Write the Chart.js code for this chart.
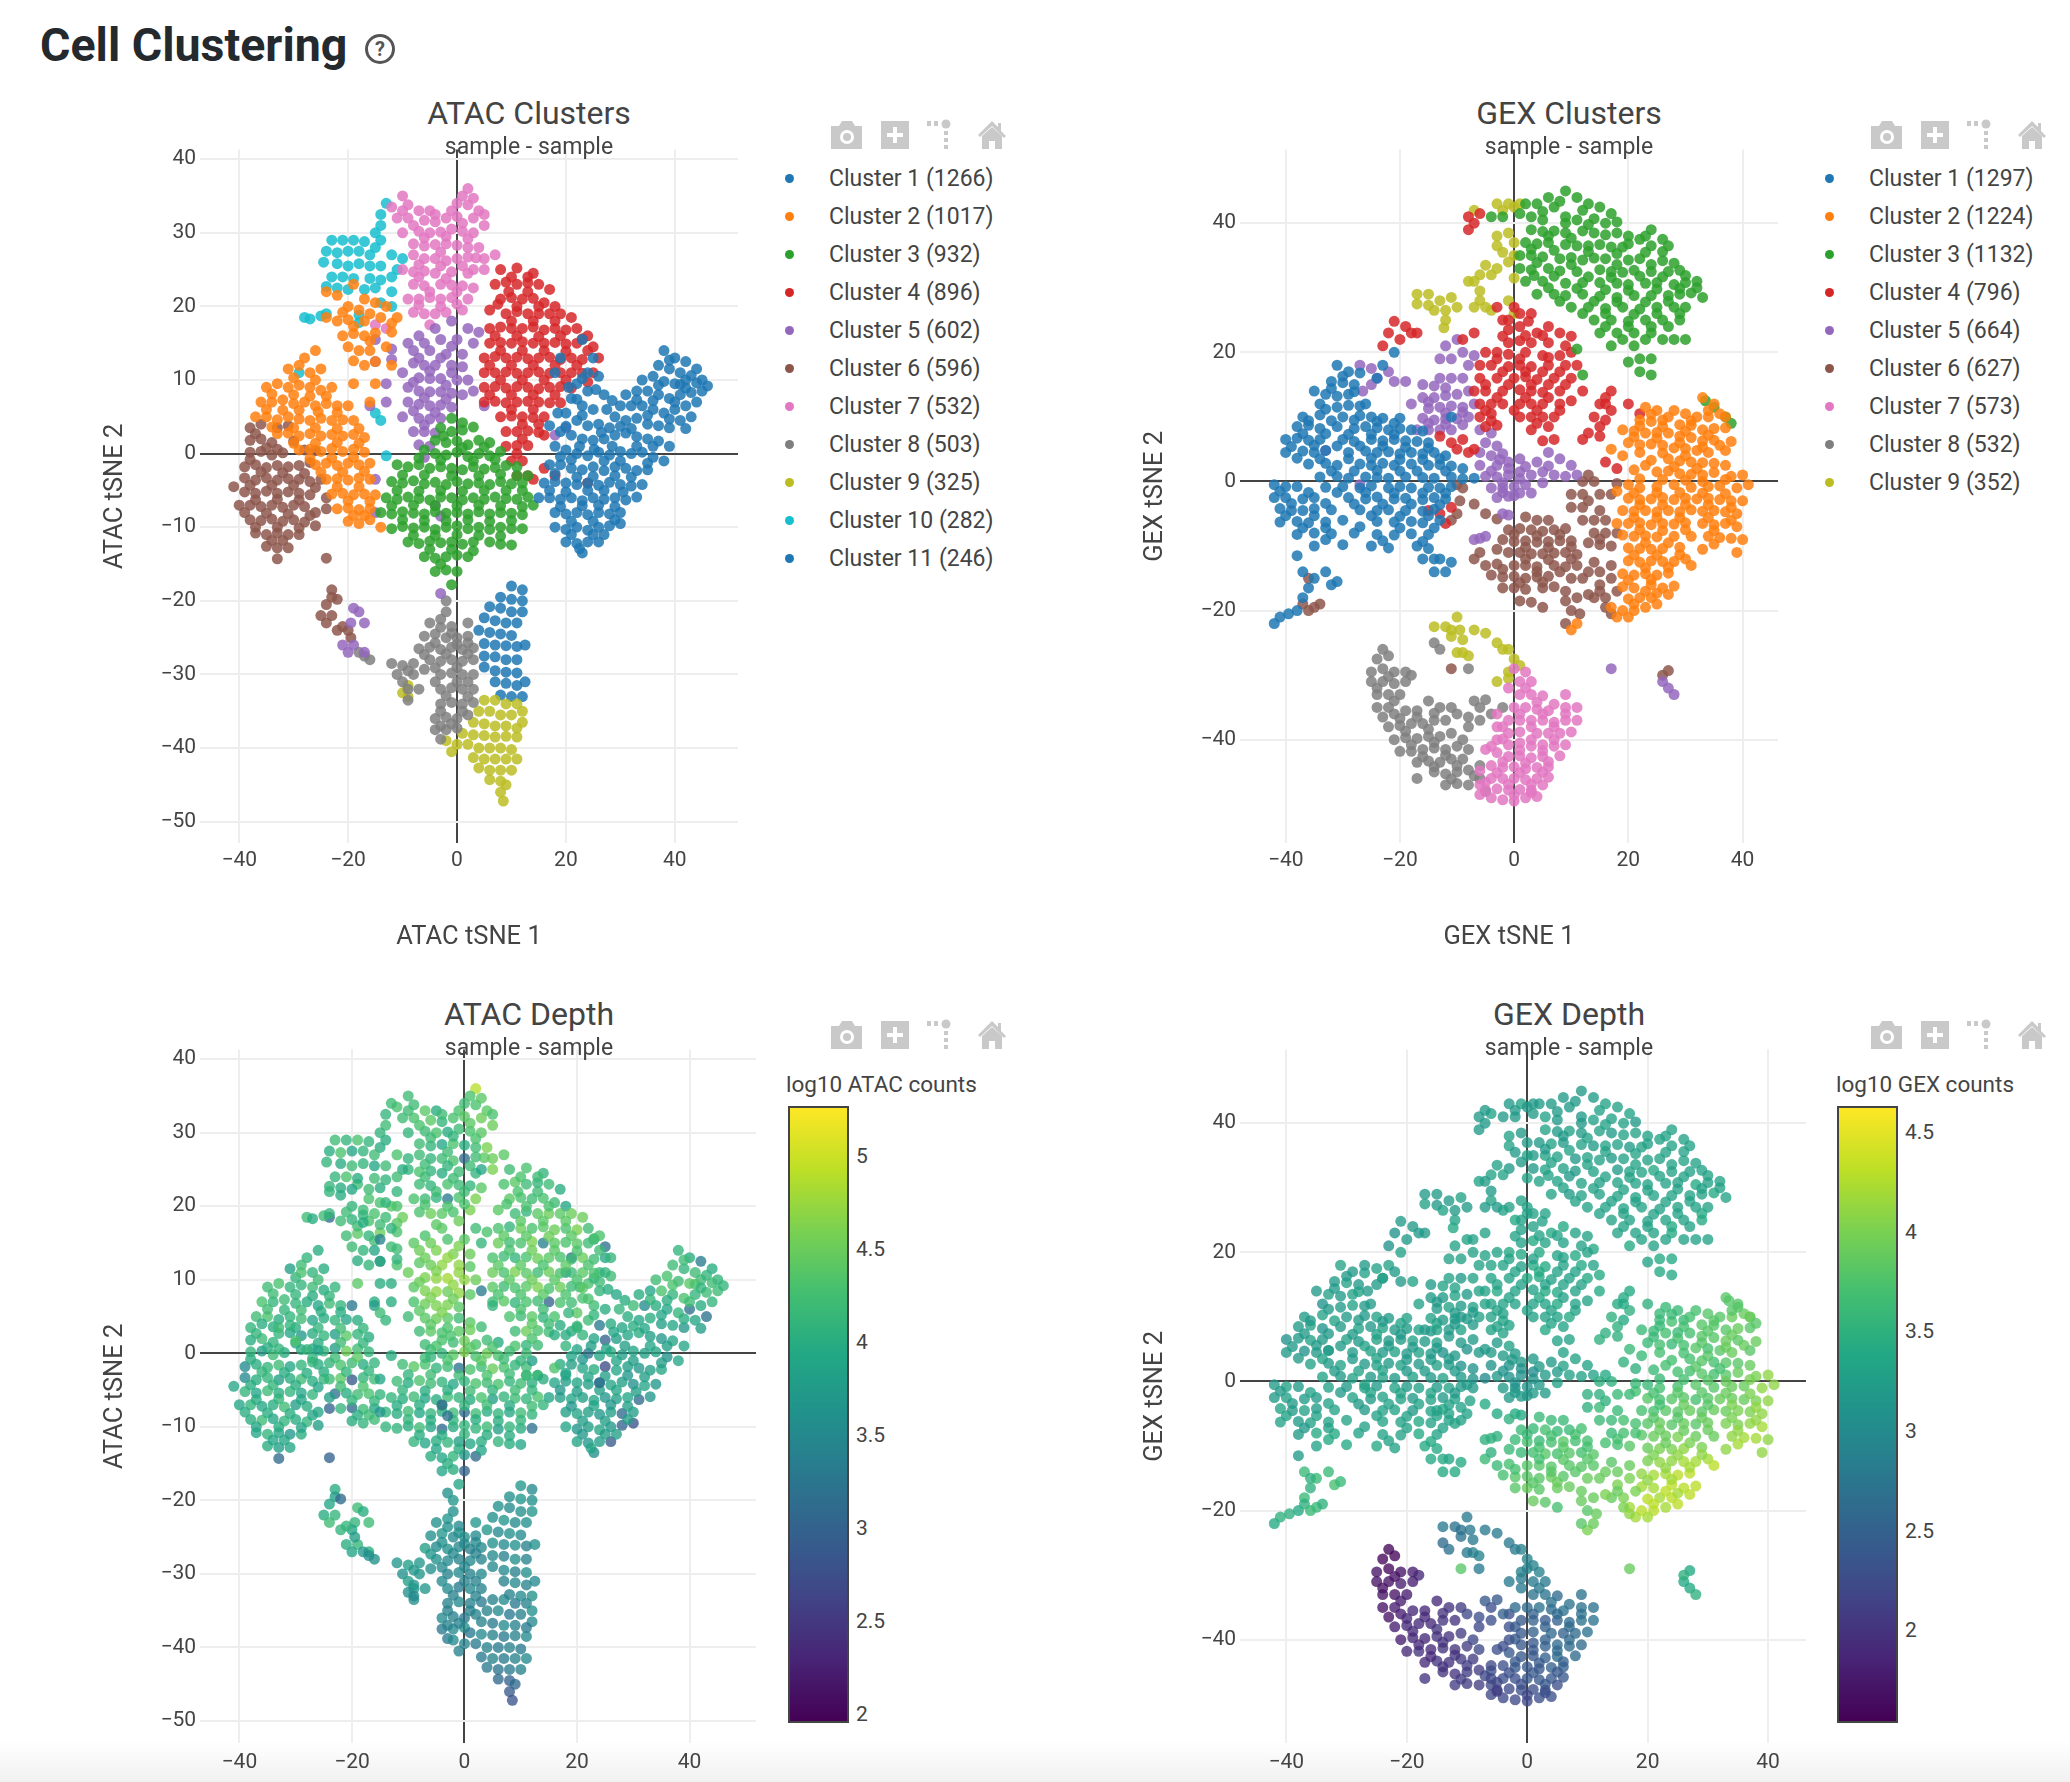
<!DOCTYPE html>
<html>
<head>
<meta charset="utf-8">
<script src="https://cdn.jsdelivr.net/npm/chart.js@4/dist/chart.umd.min.js"></script>
<style>
html,body{margin:0;padding:0;background:#fff;}
body{position:relative;width:2070px;height:1782px;overflow:hidden;font-family:Roboto,sans-serif;color:#444;}
#shade{position:absolute;left:0;right:0;bottom:0;height:42px;background:linear-gradient(#fff,#f1f1f1);}
canvas{position:absolute;}
.abs{position:absolute;white-space:nowrap;}
h1{position:absolute;left:40px;top:16px;margin:0;font-size:47px;font-weight:700;color:#24292e;line-height:58px;transform:scaleX(.99);transform-origin:left;}
.ttl{font-size:32px;transform:translateX(-50%);line-height:34px;}
.sub{font-size:23px;transform:translateX(-50%);line-height:26px;}
.leg{font-size:23px;line-height:26px;}
.cbt{font-size:22.5px;line-height:26px;}
.tick{font-size:21px;line-height:26px;}
.dot{position:absolute;width:9px;height:9px;border-radius:50%;}
.bar{position:absolute;width:57px;height:613px;border:2px solid #444;}
</style>
</head>
<body>
<div id="shade"></div>
<h1>Cell Clustering</h1>
<svg class="abs" style="left:364px;top:33px" width="32" height="32" viewBox="0 0 32 32"><circle cx="16" cy="16" r="13.5" fill="none" stroke="#555" stroke-width="3"/><text x="16" y="23" font-size="20" font-weight="700" text-anchor="middle" fill="#555" font-family="Roboto">?</text></svg>
<script>
// --- DONNEES ---
// Chaque point : [tSNE 1, tSNE 2, log10 counts], relevé à l'oeil sur l'image
const clusterColors = ["#1f77b4","#ff7f0e","#2ca02c","#d62728","#9467bd","#8c564b","#e377c2","#7f7f7f","#bcbd22","#17becf","#1f77b4"];
const atacLegend = ["Cluster 1 (1266)","Cluster 2 (1017)","Cluster 3 (932)","Cluster 4 (896)","Cluster 5 (602)","Cluster 6 (596)","Cluster 7 (532)","Cluster 8 (503)","Cluster 9 (325)","Cluster 10 (282)","Cluster 11 (246)"];
const gexLegend = ["Cluster 1 (1297)","Cluster 2 (1224)","Cluster 3 (1132)","Cluster 4 (796)","Cluster 5 (664)","Cluster 6 (627)","Cluster 7 (573)","Cluster 8 (532)","Cluster 9 (352)"];
const atacXTicks = [-40,-20,0,20,40];
const atacYTicks = [40,30,20,10,0,-10,-20,-30,-40,-50];
const gexXTicks = [-40,-20,0,20,40];
const gexYTicks = [40,20,0,-20,-40];
const atacBarTicks = [5,4.5,4,3.5,3,2.5,2];
const gexBarTicks = [4.5,4,3.5,3,2.5,2];

const atacC1 = [[38,14,4.1],[40,13,4],[42,12.5,3.3],[37,12,4.2],[39,11.5,4.1],[41,11,4.2],[44,11.5,4],[36,10.5,4.3],[38,9.8,4.2],[40,9.5,4.4],[42,10,4.2],[45,10,4.1],[34,10,4.2],[33,8.5,3.9],[35,8.5,4.3],[37,8,4.1],[39,7.5,4.3],[41,8,4.1],[43,8.3,4.2],[45,8.5,4.2],[46,9.2,4.1],[31,8,4],[30,6.5,4.2],[32,6.5,3.5],[34,6.5,4],[36,6,3.9],[38,5.5,4.1],[40,6,3.2],[42,6.5,4],[44,7,4.1],[29,5,4],[31,4.5,3.9],[33,4.8,4],[35,4,3.8],[37,3.8,3.9],[39,3.5,3.7],[41,4.5,3.9],[43,5,3.2],[25,13,3.9],[24,11,4.1],[26,10.5,4.2],[22,9.5,4.3],[24,8.5,4.1],[27,8,3.9],[21,7.5,4.3],[23,6.5,4.2],[25,6,4],[27.5,6,4.1],[20,5.5,4.4],[22,4.5,4.2],[24,3.8,3.3],[26,4,4],[28,3.5,3.9],[19,3,4],[21,2.5,4.1],[23,2,3.9],[25,1.8,3],[27,2,3.8],[29,2.5,3.9],[31,2.8,4],[33,2.3,3.8],[35,2,3.7],[37,1.7,3.9],[39,1,3.9],[18,1,4.1],[20,.5,3.9],[22,0,3.2],[24,-.3,3.9],[26,.2,4],[28,-.2,3.8],[30,.3,3.9],[32,0,3.8],[34,.2,3.9],[36,-.5,3.6],[38,-1,3.9],[17,-1.5,4],[19,-1.5,3.8],[21,-2,3.9],[23,-2.2,4],[25,-1.8,2.7],[27,-2.3,3.9],[29,-1.8,3.8],[31,-2,3.7],[33,-2.3,3.8],[35,-2.2,3.9],[16,-4,3.9],[18,-3.8,3.8],[20,-4,3.9],[22,-4.2,3.8],[24,-4,3.7],[26,-4.3,3.9],[28,-3.9,3.8],[30,-4.2,3.6],[32,-4.4,3.9],[34,-4.2,3.7],[15,-6,3.9],[17,-6,3.8],[19,-6.2,3.9],[21,-6,3.8],[23,-6.4,3.9],[25,-6,3.7],[27,-6.2,3.8],[29,-6,3.9],[31,-6.3,3.1],[33,-5.9,3.7],[18,-8,3.8],[20,-8.2,3.9],[22,-8,3.8],[24,-8.3,3.7],[26,-8,3.8],[28,-8.2,3.1],[30,-8,3.8],[18,-10,3.9],[20,-10.3,3.7],[22,-10,3.8],[24,-10.4,3.9],[26,-10,3.7],[28,-9.8,3],[30,-9.5,2.8],[20,-12,3.9],[22,-12.2,3.7],[24,-12,3.8],[26,-12,2.9],[27,-11,3.8],[23,-13.5,3.6],[19,13,3.1],[18,11,3.7],[23,15.5,3.9]];
const atacF1 = [[39,12.7,4.2],[43,10.6,4.1],[37,9.3,4.3],[41,9.4,4.3],[44,9.6,4.2],[36,7.2,4],[40,7,4.2],[42,8.9,4.1],[33,7.3,4.1],[35,5.2,3.9],[39,4.7,4],[42,3.4,3.8],[30,3.7,4],[32,3.4,3.9],[20.5,9,4.2],[23,10.2,4.1],[25.5,8.7,4],[28.5,7.2,4],[22,7.4,4.3],[20,3.7,4.2],[23,5.2,4.1],[26.5,2.9,3.9],[17,3.8,4],[18.5,5.5,4.1],[22.5,1,3.8],[25.2,.6,3.9],[28.5,1,3.8],[33,1,3.9],[36,1,3.8],[19,-.4,3.9],[21,-.8,3.7],[27,-1,3.9],[30,-1,3.8],[35,-1.3,3.8],[18,-2.7,3.9],[22,-3.2,3.9],[25,-3.1,3.8],[29,-3,3.7],[32,-3.2,3.8],[17,-5,3.7],[20,-5.2,3.8],[24,-5,3.8],[27,-5,3.9],[30.5,-5.2,3.8],[19,-7.2,3.7],[23,-7.1,3.9],[26,-7,3.7],[29,-7.2,3.8],[21,-9.2,3.8],[25,-9.2,3.8],[29,-9,3.8],[21,-11,3.7],[25,-11,3.8],[22.5,-12.9,3.9]];
const atacC2 = [[-24,22,4.1],[-22,21.5,4],[-19,23,4.2],[-17,21,4.3],[-20,20,4.1],[-18,19.5,4.2],[-15,20.5,4.3],[-13,20,4.4],[-24,18.5,3.1],[-22,18,4.2],[-20,18.2,4.1],[-17,18,4.3],[-14,18.5,4.2],[-11,18.5,4.5],[-21,16,4.2],[-19,16.3,4.4],[-17,16,4.1],[-15,16.4,4.5],[-12,16.5,4.3],[-20,14.5,4.2],[-18,14,4.1],[-16,14,3.9],[-13,14.5,4.2],[-17,12,4.1],[-15,12.5,3.3],[-12,12,4.3],[-28,13,4.1],[-26,14,4],[-31,11.5,3.8],[-29,12,4.2],[-27,11,4.1],[-25,11.5,4],[-35,9,4.2],[-33,9.5,4.3],[-31,9,4.1],[-29,9.3,4.1],[-27,9,4.2],[-25,8.6,4],[-23,9,4.1],[-19,9.5,4.4],[-15,9.5,4],[-36,7,4.3],[-34,7,4.1],[-32,7.3,4.2],[-30,6.8,4.1],[-28,7,4],[-26,6.5,3.9],[-24,6.8,4.2],[-22,6.5,4.1],[-20,6.5,3.3],[-16,7,4],[-37,5,4.2],[-35,5,4.3],[-33,4.6,4],[-31,5,4.1],[-29,4.7,4.2],[-27,4.5,3.9],[-25,4.8,4],[-23,4.5,4.1],[-21,4.6,3.9],[-19,4.5,4],[-33,2.7,4.1],[-31,2.8,3.9],[-29,2.4,3.7],[-27,2.7,4],[-25,2.4,4.1],[-23,2.6,3.8],[-21,2.4,4.4],[-19,2.6,4.1],[-17,2.2,4],[-29,.5,4],[-27,.6,3.9],[-25,.3,4.1],[-23,.7,3.8],[-21,.3,4.5],[-19,.6,4.2],[-17,.2,4.1],[-26,-1.5,4],[-24,-1.3,4.1],[-22,-1.6,4.3],[-20,-1.3,4.2],[-18,-1.5,4],[-16,-1.3,4.1],[-24,-3.5,4.2],[-22,-3.4,4.4],[-20,-3.6,2.9],[-18,-3.3,4.1],[-16,-3.5,4.2],[-23,-5.5,3.2],[-21,-5.4,4],[-19,-5.6,4.2],[-17,-5.5,4.3],[-15,-5.6,4.1],[-22,-7.5,4.1],[-20,-7.4,3.1],[-18,-7.6,4.2],[-16,-7.5,3.9],[-20,-9.2,4],[-18,-9.5,4.1],[-16,-9,4.2],[-14,-10,4.1]];
const atacF2 = [[-21,19.2,4.2],[-16,19,4.3],[-12,17.7,4.4],[-19,17.3,4.2],[-16,15.3,4.2],[-19,12.6,4],[-30,10.3,4.1],[-26,10,4.2],[-34,8.1,4.2],[-30,8,4.1],[-27,7.8,4],[-24,7.8,4.1],[-35,6,4.2],[-32,5.9,4.1],[-29,5.9,4.2],[-25.5,5.7,4],[-22,5.6,4],[-34,3.6,4],[-30,3.5,4],[-26,3.5,4.1],[-22,3.4,4.2],[-18,3.4,4.1],[-30,1.4,3.9],[-26,1.4,4],[-22,1.5,4.2],[-18,1.4,4.1],[-27,-.7,4.1],[-23,-.6,4.2],[-19,-.5,4.4],[-25,-2.5,4],[-21,-2.5,4.1],[-17,-2.4,4.1],[-22,-4.5,4.2],[-18,-4.5,4.3],[-20,-6.4,4.1],[-16,-6.5,4.1],[-19,-8.4,4],[-17,-8.4,4.2]];
const atacC3 = [[-1,4.8,4.2],[1,4.2,4.4],[-3,3.5,4.3],[-1,3,4.4],[1,3.2,4.5],[3,3.6,4.2],[-4,1.8,4.3],[-2,1.5,4.2],[0,1.7,4.5],[2,1.2,4.3],[4,1.8,4.2],[6,1.5,4],[-6,.5,4.2],[-4,0,4.1],[-2,-.2,4.4],[0,.2,4.6],[2,-.4,4.3],[4,0,4.5],[6,-.3,4.3],[8,.3,4.2],[-11,-1.5,4.2],[-9,-1.8,4.4],[-7,-1.5,4.3],[-5,-2,4.1],[-3,-1.8,4.2],[-1,-2,3.2],[1,-2.2,4.3],[3,-1.8,4.2],[5,-2.1,4.5],[7,-1.9,4.3],[9,-1.6,4.1],[11,-1.8,4.2],[-12,-3.8,4.2],[-10,-4,4],[-8,-3.7,4.3],[-6,-4.1,4.2],[-4,-3.9,4.1],[-2,-4.2,3.9],[0,-3.8,4.1],[2,-4.1,4.3],[4,-4,4.2],[6,-4.2,4.3],[8,-3.8,4.1],[10,-4.1,4.2],[12,-4,4],[13,-3,4.3],[-13,-6,4.1],[-11,-6.2,4],[-9,-5.9,4.2],[-7,-6.1,3.9],[-5,-6.3,4],[-3,-5.9,4.2],[-1,-6,4.1],[1,-6.3,4],[3,-6,4.3],[5,-6.2,3.8],[7,-5.9,4.1],[9,-6.1,4.2],[11,-6.2,4.1],[13,-5.9,4.3],[14,-7,4.1],[-14,-8,4.1],[-12,-8.2,4],[-10,-7.9,4.2],[-8,-8.1,3.9],[-6,-8.2,4.1],[-4,-7.9,4],[-2,-8.1,4.2],[0,-8,3.1],[2,-8.2,4.2],[4,-7.9,4],[6,-8.2,4.1],[8,-8,3.9],[10,-8.1,4.2],[12,-8.3,4.1],[-12,-10.2,4.1],[-10,-9.9,4],[-8,-10.1,4.2],[-6,-10,3.9],[-4,-10.3,3.1],[-2,-10,4],[0,-9.8,4.1],[2,-10.2,4.1],[4,-10,4.2],[6,-10.3,3.8],[8,-10,4.1],[10,-10.2,4],[12,-10.2,3.2],[-9,-12,4.1],[-7,-12.2,3.9],[-5,-11.9,4],[-3,-12.1,4.1],[-1,-12,3.8],[1,-12.3,3.9],[3,-12,4],[6,-12,4.1],[8,-12.3,4],[10,-12.4,3.9],[-6,-14,4],[-4,-14.2,3.9],[-2,-14,4.1],[0,-13.8,3.7],[2,-14,3.1],[-4,-16,3.9],[-2,-15.8,4],[0,-16,3],[-1,-17.8,3.9]];
const atacF3 = [[-2.5,2.4,4.3],[1,.8,4.4],[5,.9,4.3],[-7,-.6,4.2],[-3,-.9,4.3],[3,-1,4.4],[7,-.8,4.2],[-10,-2.9,4.1],[-6,-2.9,4.2],[-1,-3,4.2],[4,-3,4.3],[8,-2.8,4.2],[11,-3,4.1],[-11,-5,4.1],[-7,-5.1,4],[-3,-5,4],[1,-5.1,4.2],[5,-5,4.1],[9,-5,4.2],[12,-5,4.1],[-12,-7.1,4],[-8,-7,4],[-4,-7.1,4.1],[0,-7.1,4.1],[4,-7,4.2],[8,-7.1,4],[12,-7.2,4.2],[-10,-9,4.1],[-6,-9.1,4],[-2,-9.1,4.1],[2,-9,4],[6,-9.2,4],[10,-9.1,4.1],[-8,-11.1,4],[-4,-11.1,4],[0,-11,4.1],[4,-11.1,4],[8,-11.2,4],[-5,-13,3.9],[-1,-13,4],[3,-13.2,3.9],[-3,-15,4]];
const atacC4 = [[8,25,4.2],[11,25.2,4.3],[14,24.5,4.1],[7,23,4.3],[9,23.3,4.4],[11,23,4.2],[13,23.2,4.1],[15,23,4.2],[17,22.3,4],[8,21,4.4],[10,21.2,4.3],[12,21,4.2],[14,21.1,4.3],[16,20.5,4.2],[18,20,3.9],[6,19.5,4.4],[9,19,4.2],[11,19.3,4.1],[13,19,4.4],[15,19,4.5],[17,19,4.4],[19,19,4.5],[21,18.5,4.5],[6,17,4.3],[8,17.2,4.1],[10,17,4.5],[12,17,4.3],[14,17.2,4.4],[16,16.8,4.5],[18,17,4.3],[20,16.8,4.6],[22,17,4.2],[24,16,4.3],[6,15,4.5],[8,15.1,4.2],[10,15,4.3],[12,15.2,4.6],[14,15,3.4],[16,15,4.4],[18,15.1,4.3],[20,14.9,4.4],[22,15,4.2],[25,14.5,3.2],[5,13,4.3],[7,13.2,4.2],[9,13,4.1],[11,13.1,4.3],[13,12.9,4.5],[15,13,4.4],[17,13.1,4.3],[19,12.8,4.2],[21,13,4.5],[23,12.8,4.2],[26,13,4.1],[5,11,4.5],[7,11,4.3],[9,11.1,4.6],[11,10.9,4.4],[13,11,4.2],[15,11.1,4.5],[17,10.9,4.3],[19,11,4.2],[21,11,4.4],[23,10.9,4.3],[25,11,4.1],[5,9,4.4],[7,9.1,4.2],[9,8.9,4.3],[11,9.1,4.4],[13,9,4.6],[15,8.8,4.3],[17,9,4.5],[19,9.1,4.2],[21,8.9,4.4],[5,7,4.2],[7,7.1,4.4],[9,6.9,4.1],[11,7,4.3],[13,7.1,4.2],[15,7,3],[17,6.9,4.3],[19,6.9,4.2],[8,5,4.3],[10,5.1,4.2],[12,5,4.4],[14,4.9,4.1],[16,5,4.3],[9,3,4.2],[11,3,4.5],[13,3.1,4.3],[15,2.9,4.2],[9,1,4.3],[11,1.1,4.1],[13,1.1,4.2],[16,2.5,4],[10,-1,4.1],[12,-1,3.8],[11,-3,4.2],[13,-3,4.1],[14,-3.5,4],[16,-2,4.3],[18,-3,3.9],[24,-4,3.1]];
const atacF4 = [[10,24,4.3],[13,24,4.2],[9.5,22,4.3],[13,22,4.2],[7.5,20.3,4.3],[11,20,4.3],[15,20,4.3],[10,18,4.4],[14,18,4.4],[18,18,4.4],[7,16,4.4],[11,16,4.4],[15,15.9,4.5],[19,16,4.4],[23,15.6,4.3],[8,14,4.3],[12,14,4.5],[16,14,4.4],[20,13.9,4.3],[24,14,4.2],[6,12,4.4],[10,12,4.4],[14,12,4.3],[18,12,4.4],[22,12,4.3],[8,10,4.4],[12,10,4.5],[16,10,4.4],[20,10,4.3],[24,9.7,4.2],[6,8,4.3],[10,8,4.3],[14,8,4.4],[18,8,4.3],[10,6,4.3],[14,6,4.2],[12,4,4.4],[15,4,4.2],[12,2,4.3],[11,0,4.2]];
const atacC5 = [[-1,18,4.5],[-4,17,4.4],[2,17,4.2],[4,16.5,4.3],[-7,16,4.3],[-9,15,4.4],[-3,15.5,4.3],[0,15.5,4.4],[3,15,4.1],[-15,15.5,3.4],[-12,14.2,4.2],[-8,14,4.5],[-5,14,4.6],[-2,13.5,4.6],[1,13.5,4.5],[-15,12.5,4],[-12,12.8,4.1],[-8,12.3,4.4],[-6,12,4.5],[-4,12,4.7],[-1,12,4.7],[1,11.8,4.4],[-10,11,4.5],[-7,10.3,4.6],[-5,10.2,4.7],[-3,10.2,4.8],[0,10,4.7],[2,10,4.5],[-13,9.5,4],[-9,9,4.4],[-7,8.5,4.6],[-5,8.4,4.7],[-3,8.4,4.5],[-1,8.2,4.7],[1,8,4.4],[3,8.5,3.3],[-13,7,4],[-9,7,4.3],[-7,6.7,4.5],[-5,6.5,4.6],[-3,6.6,4.6],[-1,6.3,4.4],[-16,6.5,3.8],[5,6.5,4.1],[-10,5,4.2],[-7,4.8,4.4],[-5,4.7,4.5],[-3,4.8,4.4],[-8,3,4.2],[-6,3,4.4],[-4,2.8,4.3],[-7,1.2,4.2],[-5,1,4.3],[-6,-.5,4.1],[18,2.5,4],[20,3.5,4.1],[-3,-19,3.6]];
const atacF5 = [[-6,15,4.5],[-1,14.6,4.6],[-7,13,4.5],[-3,13,4.7],[-5,11.2,4.6],[-1,11,4.7],[-8,9.7,4.5],[-2,9.3,4.7],[-6,7.6,4.6],[-2,7.4,4.5],[-8,5.8,4.4],[-4,5.6,4.6],[-6,3.9,4.4],[-19,-21,4.2],[-18,-21.5,4],[-19.5,-23,4.1],[-17,-23,4.2],[-19,-26,4.1],[-21,-26,4],[-20,-27,3.9],[-17,-27,4],[-15,-3.5,3.9],[-15,-8,3.7],[-4,-7,3.1],[-3,-8.5,3.2]];
const atacC6 = [[-38,3.5,4.1],[-36,4,4],[-33,3.5,4.2],[-31,3.8,4.1],[-38,1.8,4],[-36,2,4.2],[-34,1.5,4.1],[-30,1.7,4.3],[-38,.2,4.1],[-36,.3,3.8],[-34,-.2,4.2],[-32,.1,4],[-28,.5,4.1],[-26,.4,3.9],[-39,-1.8,3.5],[-37,-1.5,4],[-35,-1.9,4.1],[-33,-1.6,4.2],[-31,-1.8,3.9],[-29,-1.6,4.1],[-27,-1.2,4.1],[-39,-3.3,3.5],[-37,-3.6,4],[-35,-3.3,4.1],[-33,-3.6,3.8],[-31,-3.4,4],[-29,-3.5,4.2],[-27,-3.8,4],[-25,-3.5,4.1],[-41,-4.5,3.9],[-39,-5.2,4.1],[-37,-5.4,3.9],[-35,-5.1,4.2],[-33,-5.4,4],[-31,-5.2,4.1],[-29,-5.4,3.9],[-27,-5.6,4.1],[-24,-6,3.8],[-40,-7,3.9],[-38,-7,4.1],[-36,-7.2,3.9],[-34,-7,4],[-32,-7.3,4.2],[-30,-7,3.8],[-28,-7.2,4],[-26,-8,3.9],[-24,-7.5,3],[-38,-9,4],[-36,-9.1,4.2],[-34,-8.9,3.9],[-32,-9.2,4.1],[-30,-9,4],[-28,-9.3,4.1],[-26,-9.8,3.8],[-37,-10.8,3.9],[-35,-11,4.1],[-33,-10.8,3.9],[-31,-11,3.7],[-29,-11,4],[-35,-12.6,4],[-33,-12.8,3.8],[-31,-12.8,3.9],[-33,-14.3,3.1],[-24,-14.2,3],[-23,-18.5,4],[-23,-19.5,3.8],[-24,-20.5,3.9],[-22,-19.8,3.1],[-25,-22,4],[-24,-23,4.2],[-23,-22,4.1],[-22,-24,4.1],[-20,-24,3.9],[-21,-23.5,4.1],[-19.5,-25,3.8]];
const atacF6 = [[-37,2.7,4.1],[-35,.8,4],[-33,.6,4.1],[-38,-.8,4],[-36,-2.5,4.1],[-32,-2.6,4],[-28,-2.7,4],[-38,-4.3,4],[-34,-4.3,4.1],[-30,-4.3,4],[-26,-4.6,3.9],[-37,-6.3,4],[-33,-6.2,4.1],[-29,-6.3,3.9],[-39,-8,4],[-35,-8.1,4],[-31,-8.2,4],[-27,-8.4,3.9],[-37,-10,3.9],[-33,-10,4],[-29,-10.1,3.9],[-34,-11.8,3.9],[-32,-11.8,3.9]];
const atacC7 = [[-10,35,4.2],[-12,33.5,4.3],[-9,33.8,4.2],[-7,33,4.4],[-5,33,4],[2,36,4.9],[0,34,4.2],[2,33.8,4.3],[4,33,4.4],[5,32.5,4.3],[-1,33,4.3],[-11,32,4.2],[-9,32,4.3],[-6,31.7,4.4],[-4,31.5,4.1],[-2,32,4.3],[0,32.2,4.4],[3,32,4.5],[5,31,4.5],[-10,30,4.1],[-7,30.2,4.2],[-5,30,4.3],[-3,30.1,4],[-1,30.5,4.2],[1,30.2,4.3],[3,30,4.4],[-8,28.5,4.2],[-6,28.2,4.1],[-4,28.4,3.9],[-2,28.5,4.3],[0,28.3,4],[2,28,4.2],[4,28,4.6],[-6,26.5,4.1],[-4,26.5,4.2],[-2,26.2,4.3],[0,26.5,3.1],[5,26.5,4.5],[7,27,4.4],[5,25,4.6],[-10,25,4.1],[-8,24.7,4.3],[-6,24.8,4.1],[-4,24.5,4],[-1,24.7,4.2],[2,24.5,4.1],[3,25,3.9],[-8,23,4.2],[-6,22.8,4.1],[-3,23,4.3],[-1,22.9,4.2],[1,22.8,4.1],[3,22.5,4.4],[-9,21,4.3],[-7,21,4.2],[-5,21.2,4.1],[-3,21,3.3],[-1,21.2,4.3],[2,21,4.6],[-8,19.2,4.3],[-6,19,4.5],[-4,19,4.4],[-2,19.2,4.3],[1,19.5,4.6],[-5,17.5,4.4],[-15,17.5,4.2],[-13,17,4.1]];
const atacF7 = [[-10,33,4.2],[1,35,4.3],[3,34.7,4.4],[-8,31,4.3],[-4,32.5,4.2],[1,31.3,4.4],[-6,29.3,4.2],[-2,29.5,4.1],[2,29.2,4.3],[-8,27,4.2],[-3,27.4,4.2],[2,26.7,4.2],[3.5,26.6,4.4],[-7,25.7,4.2],[-3,25.5,4.1],[1,25.5,4.2],[-7,24,4.2],[-2,23.8,4.2],[-5,22,4.2],[0,22,4.2],[-7,20.2,4.3],[-3,20,4.3],[0,20.3,4.3]];
const atacC8 = [[-2,-20,3.7],[-2,-21.5,3.6],[-3,-22.5,3.7],[-5,-23,3.6],[-1,-23.5,3.5],[2,-23,3.7],[-6,-24.8,3.6],[-4,-24.5,3.7],[-2,-25,3.5],[0,-25,3.6],[2,-24.8,3.5],[-7,-26.5,3.8],[-5,-26.3,3.5],[-3,-26.6,3.6],[-1,-26.3,3.5],[1,-26.6,3.4],[3,-26.4,3.5],[-5,-28,3.6],[-3,-28.2,3.5],[-1,-28,3.4],[1,-28.2,3.5],[3,-28,3.4],[-12,-28.5,3.7],[-10,-28.8,3.8],[-8,-28.5,3.7],[-3,-30,3.4],[-1,-29.8,3.5],[1,-30,3.4],[3,-30,3.5],[-11,-30,3.6],[-10,-31,3.8],[-8,-30,3.7],[-9,-32,3.7],[-7,-32,3.7],[-3,-32,3.5],[-1,-31.8,3.3],[1,-32,3.5],[3,-32,3.4],[-9,-33.5,3.6],[-3,-34,3.4],[-1,-33.8,3.5],[1,-34,3.4],[3,-33.8,3.3],[-4,-36,3.5],[-2,-35.8,3.4],[0,-36,3.3],[2,-35.5,3.4],[-4,-37.5,3.3],[-2,-37.5,3.5],[0,-37.3,3.6],[-3,-38.8,3.3],[-18,-27,3.7],[-17,-27.5,3.6],[-16,-28,3.6]];
const atacF8 = [[-3,-23.6,3.6],[-1,-24.4,3.6],[-4,-25.7,3.6],[0,-25.9,3.5],[2,-25.7,3.5],[-6,-27.3,3.7],[-2,-27.2,3.5],[2,-27.2,3.4],[-4,-29.1,3.5],[0,-29,3.5],[-6,-29.3,3.6],[-9,-29.5,3.7],[-4,-31,3.5],[0,-31,3.4],[2,-31,3.4],[-2,-32.9,3.4],[2,-33,3.4],[-3,-35,3.4],[1,-35,3.4],[-1,-36.7,3.4],[-3,-37,3.4]];
const atacC9 = [[5,-33.5,3.4],[7,-33.5,3.5],[9,-34,3.3],[11,-34,3.4],[12,-35,3.6],[4,-35,3.4],[6,-35,3.5],[8,-35.5,3.3],[10,-35.5,3.4],[12,-36.5,3.5],[3,-36.5,3.4],[5,-36.7,3.3],[7,-37,3.5],[9,-37,3.4],[11,-37.3,3.3],[1,-38,3.3],[3,-38.2,3.5],[5,-38.3,3.4],[7,-38.5,3.3],[9,-38.4,3.4],[11,-38.5,3.5],[-2,-39,3.5],[0,-39.5,3.4],[2,-39.5,3.3],[4,-40,3.4],[6,-40,3.3],[8,-40,3.4],[10,-40.2,3.3],[-1,-40.5,3.4],[3,-41.3,3.3],[5,-41.5,3.4],[7,-41.5,3.3],[9,-41.5,3.4],[11,-41.5,3.5],[4,-42.7,3.3],[6,-43,3.2],[8,-43,3.3],[10,-43,3.4],[6,-44.3,3.1],[8,-44.5,3],[9,-45,3.1],[8,-46,2.9],[8.5,-47.2,2.8],[-9,-31.5,3.7],[-10,-32.5,3.6],[-9,-33,3.5]];
const atacC10 = [[-13,34,4.2],[-14,32.5,4.1],[-14,31,4.2],[-15,30,4.1],[-14,29,4],[-23,29,4.2],[-21,29,4.1],[-19,29,4.3],[-17,28.8,4.1],[-15,28,4],[-24,27.5,4],[-22,27.3,4.3],[-20,27.5,3.9],[-18,27.5,4.1],[-16,27,4.2],[-12,27,4.3],[-10,26.5,4.1],[-24.5,26,4.1],[-22,25.8,4],[-20,25.5,4.2],[-18,25.8,4.1],[-16,25.5,3.9],[-14,25.5,4.2],[-11,25,4],[-23,24,4.1],[-21,24,4.3],[-19,23.8,4],[-16,23.8,4.2],[-14,23.6,4.1],[-12,24,4.2],[-24,22.7,4.1],[-22,22.5,4],[-20,22.3,3.9],[-17,22.3,4.2],[-15,22.5,4],[-12,22,4.1],[-14,20.5,4.1],[-12,20,4.3],[-28,18.5,4.2],[-27,18.3,4],[-25,18.7,4.2],[-24,19,4.1],[-18,18.8,4.1],[-18,17.8,4],[-29,11,4.3],[-15,5.5,4.2],[-14,4.5,4.1],[-13,-.3,4]];
const atacC11 = [[10,-18,3.7],[12,-18.5,3.5],[8,-19.5,3.6],[10,-19.8,3.7],[12,-20,3.6],[6,-20.8,3.6],[8,-21,3.5],[10,-21.5,3.6],[12,-21.5,3.7],[5,-22.3,3.6],[7,-22.7,3.7],[9,-23,3.5],[11,-23,3.6],[4,-24,3.7],[6,-24.3,3.5],[8,-24.5,3.6],[10,-24.7,3.5],[5,-25.8,3.6],[7,-26,3.5],[9,-26.1,3.6],[11,-26.2,3.4],[12.5,-26,3.6],[5,-27.5,3.5],[7,-27.6,3.4],[9,-28,3.6],[11,-28,3.4],[5,-29,3.5],[7,-29.5,3.5],[9,-29.7,3.4],[11,-29.8,3.6],[7,-31,3.4],[9,-31.2,3.5],[11,-31.5,3.4],[12.5,-31,3.5],[8,-32.8,3.4],[10,-33,3.5],[12,-33,3.6]];

const gexC1 = [[-21,20,3.3],[-23,18,3.3],[-24,16,3.2],[-31,18,3.3],[-29,17,3.2],[-27,16.8,3.3],[-32,15.5,3.2],[-30,15.3,3.3],[-28,15,3.2],[-35,14,3.2],[-33,13.5,3.3],[-31,13.2,3.2],[-29,13.5,3.3],[-34,12,3.1],[-31,11.5,3.2],[-29,11.8,3.3],[-27,11.7,3.2],[-37,10,3.2],[-34,10.3,3.3],[-30,10,3.2],[-27,10.2,3.2],[-25,10,3.3],[-23,9.8,3.2],[-20,9.8,3.3],[-38,8.5,3.2],[-36,8.7,3.3],[-34,8.2,3.1],[-31,8.5,3.2],[-28,8.2,3.3],[-26,8.5,3.2],[-24,8.3,3.3],[-22,8,3.2],[-20,8.2,3.2],[-18,8,3.3],[-16,7.8,3.2],[-40,6.5,3.1],[-38,6.7,3.2],[-36,6.4,3.3],[-34,6.5,3.2],[-30,6.5,3.3],[-28,6.2,3.2],[-25,6.5,3.3],[-23,6.3,3.2],[-21,6.5,3.2],[-19,6.3,3.3],[-17,6.2,3.2],[-15,6,3.3],[-40,4.5,3.2],[-37,4.7,3.1],[-35,4.5,3.2],[-33,4.8,3.3],[-29,4.5,3.2],[-26,4.7,3.3],[-24,4.5,3.2],[-22,4.6,3.3],[-20,4.3,3.2],[-18,4.5,3.3],[-16,4.3,3.2],[-14,4.5,3.1],[-12,4,3.2],[-36,2.7,3.3],[-33,2.8,3.2],[-31,2.5,3.3],[-27,2.7,3.2],[-25,2.5,3.3],[-23,2.8,3.2],[-21,2.5,3.3],[-18,2.7,3.2],[-15,2.5,3.3],[-13,2.6,3.2],[-11,2.4,3.1],[-9,2,3.1],[-34,.7,3.3],[-31,.8,3.2],[-29,.5,3.3],[-26,.7,3.2],[-24,.6,3.3],[-22,.5,3.2],[-19,.7,3.3],[-16,.6,3.2],[-14,.5,3.3],[-11,.7,3.2],[-9,.4,3.1],[-7,.5,3],[-42,-.5,3.2],[-40,-.8,3.3],[-38,-.8,3.2],[-33,-.9,3.3],[-30,-.8,3.2],[-27,-1,3.3],[-25,-.7,3.2],[-22,-1,3.3],[-20,-.8,3.2],[-18,-1,3.3],[-15,-.9,3.2],[-13,-1,3.3],[-11,-.8,3.2],[-42,-2.5,3.2],[-40,-2.5,3.3],[-37,-2.7,3.2],[-35,-2.5,3.2],[-29,-2.5,3.3],[-26,-2.7,3.2],[-24,-2.4,3.3],[-21,-2.7,3.3],[-19,-2.6,3.2],[-16,-2.8,3.3],[-14,-2.5,3.2],[-12,-2.7,3.3],[-41,-4.2,3.3],[-39,-4.5,3.2],[-37,-4.5,3.3],[-35,-4.2,3.2],[-32,-4.4,3.3],[-27,-4.4,3.2],[-24,-4.5,3.3],[-22,-4.4,3.3],[-19,-4.5,3.2],[-16,-4.6,3.3],[-14,-4.3,3.4],[-41,-6.3,3.3],[-38,-6.2,3.2],[-36,-6.4,3.3],[-33,-6.3,3.3],[-30,-6,3.3],[-24,-6.2,3.3],[-21,-6.3,3.3],[-18,-6.2,3.4],[-16,-6.4,3.3],[-13,-6,3.3],[-38,-8.2,3.2],[-35,-8,3.4],[-32,-8.1,3.4],[-28,-8,3.3],[-24,-8.2,3.3],[-21,-8.3,3.3],[-18,-8.1,3.4],[-15,-8.2,3.3],[-35,-10,3.3],[-30,-9.8,3.4],[-25,-10,3.4],[-22,-10.3,3.3],[-17,-10,3.4],[-15,-10.4,3.4],[-13,-12,3.3],[-16,-12,3.4],[-38,-11.5,3.2],[-12,-14,3.4],[-14,-14,3.4],[-11,-12.5,3.4],[-37,-14,3.6],[-35,-15,3.6],[-36,-16.5,3.5],[-37,-18,3.6],[-33,-14,3.6],[-32,-16,3.7],[-31,-15.5,3.6],[-42,-22,3.4],[-41,-21,3.5],[-39.5,-20.5,3.5],[-38,-20,3.4],[-11,10,3.2],[-26,12,3.2]];
const gexF1 = [[-30,16.3,3.2],[-32,14.4,3.2],[-28,13.9,3.3],[-33,11.2,3.2],[-36,9.4,3.2],[-32,9.4,3.3],[-28,9.5,3.2],[-24,9.3,3.2],[-21,9,3.3],[-37,7.4,3.2],[-33,7.4,3.2],[-29,7.3,3.2],[-25,7.3,3.3],[-21,7.3,3.2],[-39,5.4,3.2],[-35,5.6,3.2],[-31,5.5,3.2],[-27,5.5,3.3],[-23,5.5,3.2],[-19,5.3,3.2],[-15,5.2,3.2],[-38,3.6,3.2],[-34,3.5,3.3],[-29,3.5,3.2],[-25,3.6,3.3],[-20,3.4,3.2],[-16,3.4,3.2],[-13,3.5,3.2],[-32,1.6,3.2],[-28,1.6,3.3],[-24,1.7,3.3],[-20,1.6,3.2],[-17,1.6,3.2],[-12,1.6,3.2],[-41,-1.5,3.2],[-36,-1.7,3.3],[-31,-1.7,3.2],[-26,-1.7,3.3],[-21,-1.8,3.3],[-16,-1.8,3.3],[-12,-1.8,3.2],[-39,-3.4,3.2],[-33,-3.4,3.3],[-28,-3.5,3.2],[-23,-3.5,3.3],[-18,-3.5,3.3],[-13,-3.6,3.3],[-40,-5.3,3.3],[-35,-5.3,3.3],[-25,-5.3,3.3],[-20,-5.4,3.3],[-15,-5.3,3.3],[-37,-7.2,3.2],[-33,-7.2,3.3],[-27,-7,3.3],[-20,-7.2,3.3],[-14,-7.2,3.3],[-33,-9,3.4],[-23,-9.2,3.3],[-16,-9.3,3.4],[-14,-12,3.4]];
const gexC2 = [[33,13,3.8],[35,12,3.8],[36,10.5,3.9],[28,11,3.7],[30,10.5,3.8],[32,10,3.8],[34,10,3.9],[37,10,3.9],[23,11.5,3.6],[25,11,3.6],[22,9.5,3.6],[24,9.3,3.7],[26,9.5,3.6],[29,8.8,3.8],[31,8.7,3.8],[33,8,3.8],[35,8.2,3.9],[37,8.3,3.8],[19,8,3.6],[21,7.8,3.6],[23,7.5,3.7],[25,7.6,3.6],[27,7.5,3.7],[29,7,3.8],[31,6.8,3.8],[33,6.3,3.9],[35,6.4,3.8],[38,6.2,3.9],[20,6,3.6],[22,5.7,3.7],[24,5.8,3.6],[26,5.6,3.7],[28,5.2,3.8],[30,5.1,3.7],[32,4.8,3.8],[34,4.5,3.9],[37,4.8,3.8],[17,5,3.6],[19,4,3.6],[27,3.5,3.7],[29,3.2,3.8],[31,3,3.7],[33,2.9,3.8],[35,2.8,3.8],[23,2.5,3.7],[21,1.8,3.6],[25,1.5,3.7],[27,1.6,3.7],[29,1.2,3.8],[31,1.1,3.7],[33,1,3.8],[37,2.5,3.9],[38,.8,4],[40,1,4.1],[41,-.5,4.1],[39,-1,4.1],[36,-.7,3.9],[34,-.8,3.9],[31,-.9,3.8],[28,-.5,3.8],[25,-.8,3.7],[22,-1,3.7],[20,-.5,3.6],[18,-1.5,3.7],[20,-2.6,3.8],[22,-2.8,3.7],[24,-2.7,3.8],[26,-2.5,3.8],[28,-2.8,3.7],[30,-2.6,3.8],[32,-2.7,3.9],[34,-2.6,3.9],[36,-2.8,3.9],[38,-3,4],[40,-3,4.1],[19,-4.5,3.7],[21,-4.6,3.7],[23,-4.5,3.8],[25,-4.7,3.8],[27,-4.5,3.9],[29,-4.7,3.8],[31,-4.4,3.9],[33,-4.6,3.9],[35,-4.5,4],[37,-4.7,4],[39,-5,4.1],[18,-6.5,3.7],[20,-6.5,3.8],[22,-6.4,3.9],[24,-6.7,3.8],[26,-6.5,3.9],[28,-6.6,3.8],[30,-6.4,3.9],[33,-6.5,4],[35,-6.7,4],[37,-6.5,4.1],[39,-7,4.2],[40,-9,4.1],[19,-8.3,3.8],[21,-8.5,3.9],[23,-8.4,3.9],[25,-8.6,4],[28,-8.5,3.9],[31,-8.5,3.9],[34,-8.5,4.1],[36,-8.7,4.2],[38,-8.8,4.2],[20,-10.3,3.9],[22,-10.4,4],[24,-10.5,4],[26,-10.4,4.1],[29,-10.2,4],[33,-10.5,4.1],[39,-11,4.1],[20,-12.3,4],[22,-12.5,4.1],[24,-12.3,4.1],[26,-12.4,4.2],[28,-12.4,4.2],[30,-12,4.2],[31,-13,4.3],[19,-14.3,4.1],[21,-14.5,4.2],[23,-14.3,4.2],[25,-14.5,4.3],[27,-14.2,4.3],[19,-16.3,4.2],[21,-16.5,4.2],[24,-16,4.3],[26,-16.5,4.3],[28,-16.2,4.3],[22,-18,4.2],[20,-18.2,4.3],[24,-18,4.3],[27,-17.5,4.3],[17,-19.5,4.2],[19,-20,4.3],[21,-20,4.3],[23,-19.5,4.2],[25,-19,4.3],[18,-21,4.2],[20,-21,4.2],[10,-23,4],[11,-22,3.9]];
const gexF2 = [[34,11,3.8],[31,9.4,3.8],[27,10,3.7],[24,10.4,3.6],[30,7.8,3.8],[34,7.2,3.9],[22,8.6,3.6],[26,8.5,3.7],[21,6.9,3.6],[25,6.7,3.7],[29,6,3.8],[33,5.3,3.9],[36,5.6,3.9],[22,4.5,3.7],[26,4.4,3.7],[30,4,3.8],[24,3.3,3.7],[28,2.3,3.8],[32,2,3.7],[35,1.4,3.9],[22,.4,3.6],[26,.3,3.7],[30,.2,3.8],[33,0,3.9],[37,.3,4],[21,-1.8,3.7],[25,-1.7,3.8],[29,-1.7,3.8],[33,-1.8,3.9],[37,-1.9,4],[22,-3.6,3.7],[26,-3.6,3.9],[30,-3.6,3.8],[34,-3.6,4],[38,-4,4.1],[21,-5.6,3.8],[25,-5.6,3.8],[29,-5.6,3.9],[34,-5.6,4],[38,-6,4.1],[22,-7.5,3.9],[26,-7.6,3.9],[30,-7.5,3.9],[35,-7.6,4.1],[23,-9.5,3.9],[27,-9.5,4],[35,-9.7,4.2],[21,-11.4,4],[25,-11.4,4.1],[29,-11.3,4.1],[23,-13.4,4.1],[27,-13.3,4.2],[20,-15.3,4.1],[24,-15.2,4.2],[23,-17,4.3],[21,-19,4.3],[25,-17.3,4.2]];
const gexC3 = [[9,45,3.2],[6,44,3.2],[11,44,3.2],[4,43,3.2],[2,43,3.2],[7,42.5,3.2],[13,43,3.3],[15,42.5,3.3],[17,41.5,3.3],[-2,41,3.2],[-4,41,3.2],[1,41.5,3.2],[3,41,3.3],[5,40.5,3.2],[9,41,3.2],[11,40.5,3.3],[14,40.7,3.3],[16,40,3.3],[18,40.2,3.2],[3,39,3.3],[5,38.7,3.2],[7,38.8,3.3],[9,38.5,3.2],[12,38.8,3.3],[14,38.5,3.2],[18,38.5,3.3],[20,38,3.3],[24,39,3.3],[22,37.5,3.3],[26,37.5,3.3],[2,37,3.2],[4,36.8,3.3],[6,37,3.2],[9,36.7,3.3],[11,36.5,3.2],[13,36.5,3.3],[15,36.7,3.3],[17,36.3,3.2],[19,36.3,3.3],[24,36.5,3.3],[27,36.5,3.3],[1,35,3.2],[3,35,3.3],[5,34.8,3.3],[8,34.5,3.2],[10,34.7,3.3],[12,34.3,3.3],[14,34.6,3.2],[16,34.5,3.3],[20,34.3,3.3],[22,34.5,3.3],[26,34.2,3.3],[1,33,3.2],[3,32.8,3.3],[6,33,3.3],[8,32.6,3.2],[11,32.5,3.3],[15,32.8,3.2],[17,32.5,3.3],[19,32.4,3.3],[21,32.7,3.4],[24,32.5,3.3],[27,32.5,3.3],[29,32.7,3.3],[2,31,3.3],[5,31,3.3],[9,30.7,3.3],[12,30.8,3.3],[15,30.8,3.3],[18,30.7,3.3],[20,30.5,3.3],[23,30.7,3.3],[25,30.8,3.3],[28,30.5,3.4],[30,30.8,3.3],[32,31,3.3],[4,29,3.3],[7,29,3.2],[9,28.8,3.3],[12,29,3.3],[15,28.7,3.3],[18,28.5,3.3],[21,28.8,3.3],[24,28.8,3.3],[27,28.8,3.3],[29,29,3.3],[31,29.2,3.4],[33,28.5,3.3],[10,27,3.3],[13,27,3.3],[16,26.8,3.3],[19,27,3.3],[22,26.7,3.3],[25,27,3.3],[28,27,3.3],[30,27,3.3],[14,25,3.3],[17,25,3.3],[20,24.8,3.3],[23,25,3.3],[26,25,3.3],[29,25,3.4],[15,23,3.3],[18,23,3.3],[21,23,3.3],[24,23,3.4],[26,22,3.3],[28,22,3.3],[30,22,3.3],[11,20.5,3.4],[17,21,3.4],[21,21,3.3],[22,19,3.4],[24,19,3.4],[20,18.5,3.3],[22,17,3.4],[24,16.5,3.4],[12,16.5,3.4],[35,11.5,3.8],[33.5,12.5,3.8],[37,10,3.9],[38,9,3.8]];
const gexF3 = [[8,43.4,3.2],[12,42,3.3],[5,41.8,3.2],[9,40,3.2],[13,39.8,3.3],[16,38.2,3.3],[6,38,3.2],[10,37.7,3.3],[20,36.8,3.3],[23,38,3.3],[3,36,3.2],[7,35.8,3.3],[13,35.6,3.3],[18,35.3,3.3],[23,35.5,3.3],[26,35.6,3.3],[4,33.9,3.3],[10,33.6,3.3],[18,33.6,3.3],[24,33.6,3.3],[28,33.8,3.3],[3.5,31.9,3.3],[7,31.8,3.2],[13,31.7,3.3],[17,31.6,3.3],[22,31.8,3.3],[26,31.7,3.3],[30,31.9,3.3],[6,30,3.3],[11,29.9,3.3],[16,29.7,3.3],[20,29.6,3.3],[25,29.8,3.3],[29,29.9,3.3],[32,30,3.3],[8,27.9,3.3],[14,27.9,3.3],[18,27.8,3.3],[23,27.8,3.3],[27,27.9,3.3],[12,26,3.3],[16,26,3.3],[21,25.9,3.3],[25,26,3.3],[29,26,3.4],[16,24,3.3],[20,24,3.3],[24,24,3.4],[27,24,3.3],[19,22,3.3],[23,22,3.3]];
const gexC4 = [[-8,41,3.2],[-7,40,3.2],[-8,39,3.2],[-6,41.5,3.3],[-22,23,3.1],[-21,24.8,3.2],[-19,24,3.2],[-18,23,3.2],[-20,22,3.2],[-23,21,3.1],[-17,23,3.2],[-3,27,3.3],[0,27,3.3],[-2,25,3.4],[1,26,3.3],[3,26,3.3],[-9,22,3.3],[-7,23,3.3],[-1,23.5,3.3],[1,24,3.3],[4,23,3.4],[6,24,3.4],[8,23,3.3],[10,22.5,3.3],[-1,21.5,3.3],[1,21.8,3.4],[3,21.5,3.3],[6,21.5,3.3],[9,21,3.3],[-5,20,3.3],[-3,20,3.4],[-1,19.7,3.4],[2,20,3.4],[5,19.5,3.3],[8,19.5,3.4],[10,20,3.3],[-6,18,3.3],[-4,18,3.3],[-1,17.8,3.3],[1,18,3.4],[3,17.8,3.4],[6,18,3.3],[9,18,3.4],[11,18,3.3],[-6,16,3.3],[-3,16,3.3],[0,16,3.4],[2,16.2,3.4],[4,15.8,3.3],[7,16,3.3],[10,16,3.4],[12,14,3.4],[-7,14,3.3],[-5,14,3.4],[-2,14,3.3],[1,14.2,3.3],[3,14,3.4],[5,13.8,3.4],[8,14,3.3],[-6,12,3.3],[-4,12,3.3],[-2,12,3.3],[1,12,3.3],[3,12,3.3],[5,12,3.4],[8,12,3.3],[10,12.5,3.3],[-6,10,3.3],[-4,10.5,3.3],[1,10,3.3],[3,10,3.3],[5,10,3.3],[7,10,3.4],[-5,8.5,3.3],[-3,8.7,3.3],[3,8,3.4],[6,8.5,3.3],[5,6.3,3.3],[7,6.5,3.3],[16,13,3.4],[17,14,3.4],[15,12,3.4],[17,11,3.5],[14,10,3.5],[16,9.5,3.4],[13,7.5,3.5],[15,7,3.5],[12,6.5,3.5],[16,3,3.5],[18,2,3.5],[20,12,3.5],[22,10.5,3.6],[-13,7,3.2],[-11,6,3.2],[-10,5,3.1],[-9,6.5,3.2],[-8,4.5,3.2],[-7,5,3.2],[-11,-4,3.3],[-15,-4.5,3.3],[-13,-5,3.3],[-12,-6.5,3.3]];
const gexF4 = [[-1,25,3.3],[2.5,24.8,3.3],[5,22.6,3.3],[-2,22.5,3.3],[2,22.6,3.3],[-3,19,3.3],[1,19,3.3],[6,19.2,3.3],[-2,17,3.3],[2,17,3.4],[5,17,3.3],[8,17,3.3],[-5,15,3.3],[-1,15,3.3],[3,15,3.3],[6,15,3.3],[9,15,3.3],[-3,13,3.3],[2,13,3.4],[6,13,3.3],[-5,11,3.3],[0,11,3.3],[4,11,3.3],[8,11,3.3],[-4,9.4,3.3],[4,9,3.3],[16,12,3.4],[15,8.5,3.5]];
const gexC5 = [[-27,18,3.2],[-25,17.5,3.3],[-22,17,3.2],[-24,16,3.3],[-21,15.5,3.2],[-19,15.5,3.3],[-25,15,3.2],[-13,19,3.3],[-12,21,3.3],[-10,22,3.3],[-11,19,3.3],[-9,20,3.3],[-8,18,3.3],[-7,19.5,3.3],[-13,16,3.3],[-16,15,3.2],[-14,14.8,3.3],[-11,16,3.2],[-9,16,3.3],[-16,13,3.2],[-14,13,3.2],[-12,13.3,3.3],[-10,13.5,3.2],[-8,14,3.3],[-18,12,3.3],[-15,11.3,3.2],[-13,11.5,3.3],[-11,11.7,3.2],[-9,11.5,3.3],[-7,12,3.3],[-16,9.8,3.3],[-14,9.5,3.2],[-12,9.7,3.2],[-10,9.7,3.2],[-8,10,3.3],[-17,8,3.2],[-15,8,3.3],[-13,8,3.2],[-11,8,3.3],[-6,8,3.3],[-4,7.5,3.3],[-5,6,3.2],[-3,5.5,3.3],[-6,4.5,3.2],[-4,4,3.2],[-2,4.3,3.2],[-6,2.5,3.1],[-3,2.5,3.1],[-1,3,3.2],[1,3.5,3.2],[4,3,3.2],[6,4.5,3.3],[8,3.5,3.3],[10,2.5,3.3],[5,1.5,3.2],[-5,.8,3.2],[-3,.7,3.1],[-1,1,3.1],[1,1.5,3],[3,1,3.2],[5,-.2,3.3],[7,1,3.3],[9,.8,3.3],[11,1,3.3],[-4,-1,3.2],[-2,-1,3.1],[0,-.8,3.1],[2,-.5,3.2],[-3,-2.5,3.2],[-1,-2.3,3.2],[1,-1.8,3.2],[3,-1.8,3.2],[-1,-5.2,3.4],[-2,-5,3.4],[-6,-8.8,3.5],[-7,-9,3.5],[-5,-8.5,3.5],[17,-29,3.9],[27,-32,3.4],[28,-33,3.5],[26,-31,3.4],[-33,4.8,3.2],[-27,-.5,3.3],[-26.5,14,3.2]];
const gexF5 = [[-12,14.5,3.3],[-15,12.3,3.2],[-12,10.6,3.2],[-9,10.7,3.2],[-15,9,3.3],[-12,8.9,3.2],[-9,8.8,3.2],[-2.5,3.4,3.2],[-4,1.6,3.1],[-1,2,3.1],[2,2.3,3.2],[6,2.4,3.3],[-2,-.2,3.1],[1,.4,3.1],[-2,-1.7,3.2],[0,-2.2,3.2]];
const gexC6 = [[12,0,3.5],[14,0,3.5],[13,1,3.4],[18,-.3,3.6],[10,-2,3.5],[12,-2,3.5],[15,-2,3.6],[17,-2,3.6],[-9,-1,3.2],[-10,-.5,3.2],[-9.5,-3,3.3],[-7,-3.5,3.4],[-5,-5,3.4],[-3,-5.8,3.5],[-10,-5,3.3],[-11,-6,3.3],[10,-4,3.5],[12,-4,3.6],[15,-4.5,3.6],[14,-6,3.6],[16,-6,3.7],[2,-5.5,3.6],[4,-6,3.6],[6,-6,3.6],[-1,-7.5,3.6],[1,-7.3,3.6],[3,-7.5,3.7],[5,-7.7,3.6],[7,-7.5,3.6],[9,-7.3,3.7],[14,-8,3.6],[16,-8,3.7],[18,-8,3.7],[-2,-9,3.6],[0,-9.3,3.7],[2,-9.2,3.6],[4,-9.4,3.7],[6,-9.3,3.8],[8,-9.2,3.7],[10,-9.2,3.7],[13,-9.5,3.7],[15,-9.8,3.7],[17,-10,3.8],[-1,-11,3.6],[1,-11,3.7],[3,-11.2,3.8],[5,-11.2,3.7],[7,-11.1,3.8],[9,-11,3.7],[11,-11.3,3.8],[-7,-12,3.6],[-6,-11,3.5],[-5,-13,3.6],[-3,-12.8,3.7],[0,-13,3.8],[2,-13,3.8],[4,-13.2,3.8],[7,-13,3.8],[9,-13.2,3.8],[11,-13,3.8],[14,-12.5,3.8],[-4,-14.5,3.7],[-2,-14.8,3.8],[0,-14.7,3.8],[2,-15,3.8],[4,-14.8,3.9],[6,-14.7,3.8],[10,-15,3.9],[12,-15,3.9],[15,-14,3.9],[17,-13,3.9],[-2,-16.5,3.8],[0,-16.5,3.9],[2,-16.7,3.8],[5,-16.5,3.9],[7,-16.3,3.9],[15,-16,4],[17,-15,4],[14,-18,3.9],[16,-18,4],[18,-17,4],[1,-18.5,3.9],[3,-18.7,3.8],[9,-18.5,3.9],[11,-18,3.9],[13,-17.5,4],[16,-19.5,4],[17,-20.5,4.1],[10,-20,3.8],[11.5,-20.5,3.9],[5,-19.5,3.7],[9,-22,3.8],[-11,-29,3.8],[27,-29.3,3.4],[26,-30,3.5],[-36,-15,3.5],[-37,-19,3.5],[-35,-19.5,3.6],[-34,-19,3.5],[-36,-20,3.6]];
const gexF6 = [[0,-8.2,3.6],[4,-8.4,3.7],[8,-8.2,3.7],[15,-8.9,3.7],[2,-10.2,3.7],[6,-10.2,3.8],[10,-10.1,3.7],[-3,-10.5,3.6],[2,-12,3.7],[6,-12.1,3.8],[10,-12,3.8],[-2,-13.6,3.7],[4,-14,3.8],[8,-14,3.8],[13,-14,3.9],[1,-15.7,3.8],[5,-15.6,3.9],[9,-17,3.9],[15,-17,3.9],[12,-6,3.6],[13,-3,3.5]];
const gexC7 = [[0,-29,2.9],[2,-29.5,2.9],[1,-31,2.8],[3,-31,2.8],[-1,-32,2.8],[1,-33,2.7],[3,-33,2.7],[5,-33.2,2.6],[9,-33,2.7],[7,-34.5,2.7],[0,-35,2.6],[2,-35,2.7],[4,-35.3,2.6],[6,-35.5,2.7],[9,-35,2.7],[11,-35,2.7],[-3,-36,2.3],[-1,-37,2.4],[1,-37,2.5],[3,-37,2.4],[5,-37,2.5],[7,-37.3,2.6],[9,-37,2.7],[11,-37,2.7],[-3,-38,2.3],[-1,-39,2.4],[1,-38.8,2.5],[4,-39,2.6],[6,-39,2.5],[8,-39,2.6],[10,-38.8,2.7],[-3,-40,2.3],[-1,-40.8,2.4],[1,-40.5,2.4],[3,-41,2.5],[5,-40.8,2.6],[7,-41,2.6],[9,-40.8,2.6],[-5,-41.5,2.3],[-3,-42,2.4],[-1,-42.6,2.4],[1,-42.5,2.4],[3,-42.8,2.5],[5,-42.6,2.6],[8,-42.5,2.6],[-4,-44,2.3],[-2,-44.3,2.4],[0,-44.2,2.4],[2,-44.5,2.4],[4,-44.3,2.5],[6,-44.2,2.5],[-6,-44.8,2.3],[-4,-46,2.3],[-2,-46,2.3],[0,-46,2.4],[2,-46.2,2.4],[4,-46,2.4],[6,-45.8,2.4],[-6,-47,2.2],[-3,-47.6,2.2],[-1,-47.8,2.3],[1,-47.7,2.3],[3,-47.8,2.3],[5,-47,2.3],[-6,-48.5,2.2],[-4,-49,2.2],[-2,-49.3,2.2],[0,-49.5,2.2],[2,-49,2.3],[4,-48.8,2.3]];
const gexF7 = [[2,-32,2.8],[4,-34.2,2.7],[1,-36,2.5],[5,-36,2.6],[9,-36,2.7],[-2,-38,2.4],[3,-38,2.5],[7,-38,2.6],[-2,-39.9,2.4],[3,-40,2.5],[7,-40,2.6],[-4,-41,2.3],[1,-41.6,2.4],[5,-41.7,2.6],[-2,-43.4,2.4],[2,-43.6,2.4],[6,-43.4,2.5],[-3,-45.1,2.3],[1,-45.1,2.4],[5,-45,2.4],[-5,-46.6,2.2],[-1,-46.9,2.3],[3,-46.9,2.4],[-5,-47.8,2.2],[0,-48.6,2.2],[3,-48.2,2.3]];
const gexC8 = [[-23,-26,1.6],[-22,-27,1.6],[-24,-27.5,1.6],[-25,-29.5,1.7],[-23,-29,1.6],[-21,-29.5,1.7],[-19,-29.5,1.8],[-18,-30,1.9],[-25,-31,1.7],[-23,-31,1.7],[-21,-31.3,1.8],[-19,-31,1.8],[-24,-33,1.7],[-22,-33,1.7],[-20,-33,1.8],[-24,-35,1.7],[-22,-35,1.8],[-23,-36.5,1.7],[-21,-36,1.8],[-19,-35.5,1.9],[-17,-35.5,1.9],[-15,-34,1.9],[-13,-35,2],[-11,-35,2.1],[-22,-38,1.8],[-20,-37.8,1.9],[-18,-37.5,1.9],[-16,-37.5,1.9],[-14,-37,2],[-12,-37,2],[-10,-36,2.2],[-8,-36.5,2.3],[-6,-35,2.3],[-7,-34,2.4],[-5,-33.8,2.4],[-21,-40,1.8],[-19,-39.7,1.9],[-17,-39.8,1.9],[-15,-39.5,2],[-13,-39.5,2],[-8,-38,2.2],[-6,-37,2.3],[-20,-41.8,1.9],[-18,-41.8,2],[-16,-41.5,1.9],[-14,-41.3,2],[-12,-41.5,2],[-10,-41,2.1],[-17,-43.5,1.9],[-15,-43.3,2],[-13,-43.5,2],[-11,-43,2.1],[-9,-43,2.1],[-14,-45,2],[-12,-45.3,2],[-10,-45,2.1],[-8,-44.7,2.1],[-6,-44,2.2],[-12,-47,2.1],[-10,-46.8,2.1],[-8,-47,2.1],[-6,-46,2.2],[-5,-48,2.1],[-17,-46,2],[-4,-36,2.5],[-2,-35,2.6],[-14,-25,2.6],[-13,-26,2.7],[-8,-29,2.8]];
const gexF8 = [[-22,-30.2,1.7],[-24,-32,1.7],[-21,-34,1.8],[-20,-36.7,1.9],[-17,-36.5,1.9],[-14,-35.9,2],[-19,-38.7,1.9],[-15,-38.4,2],[-11,-39,2.1],[-18,-40.8,1.9],[-14,-40.4,2],[-16,-42.6,1.9],[-12,-42.4,2],[-14,-44.2,2],[-10,-44,2.1],[-11,-46.1,2.1],[-7,-45.6,2.2],[-9,-40,2.2],[-8,-41.5,2.2]];
const gexC9 = [[-3,43,3.2],[-1,43,3.3],[0,42.5,3.2],[-2,42,3.2],[1,43,3.2],[-7,42,3.2],[-3,38,3.3],[-1,38.5,3.2],[0,37,3.2],[-3,36.5,3.3],[-2,35.5,3.2],[0,35,3.3],[-1,34,3.2],[-5,33.5,3.3],[-3,33,3.2],[-6,32,3.3],[-4,32,3.3],[-7,31,3.2],[-8,31,3.3],[0,31.5,3.3],[-6,29.5,3.2],[-6,28,3.3],[-5,27,3.2],[-7,27,3.2],[-4,26.5,3.3],[-1,28,3.3],[0,26,3.3],[-17,29,3.2],[-15,29,3.2],[-17,27.5,3.3],[-15,27.3,3.2],[-13,28,3.2],[-11,28.5,3.3],[-14,26.5,3.3],[-12,26.5,3.2],[-10,27,3.2],[-12,25,3.3],[-12.3,23.8,3.4],[-14,-22.5,2.8],[-12,-22.5,2.7],[-10,-21,2.8],[-11,-23,2.7],[-9.5,-23,2.8],[-9,-24.5,2.8],[-11,-24,2.7],[-9,-26.5,2.9],[-8,-27,2.9],[-10,-26.5,2.8],[-7,-23,2.8],[-5,-23.5,2.8],[-3,-25,2.8],[-2,-26,2.8],[-1,-26,2.9],[0,-27.5,2.9],[1,-28.5,2.9],[-3,-31,2.8],[-1,-30.5,2.8],[-1,-29.5,2.9]];

const atacPoints = [atacC1.concat(atacF1),atacC2.concat(atacF2),atacC3.concat(atacF3),atacC4.concat(atacF4),atacC5.concat(atacF5),atacC6.concat(atacF6),atacC7.concat(atacF7),atacC8.concat(atacF8),atacC9,atacC10,atacC11];
const gexPoints = [gexC1.concat(gexF1),gexC2.concat(gexF2),gexC3.concat(gexF3),gexC4.concat(gexF4),gexC5.concat(gexF5),gexC6.concat(gexF6),gexC7.concat(gexF7),gexC8.concat(gexF8),gexC9];

const viridis = ["#440154","#482475","#414487","#355f8d","#2a788e","#21918c","#22a884","#44bf70","#7ad151","#bddf26","#fde725"];

/** Couleur viridis pour une valeur de profondeur. */
function depthColor(d, lo, hi) {
  const t = Math.min(1, Math.max(0, (d - lo) / (hi - lo))) * (viridis.length - 1);
  const i = Math.min(viridis.length - 2, Math.floor(t));
  const rgb = s => [1, 3, 5].map(k => parseInt(s.substr(k, 2), 16));
  const a = rgb(viridis[i]), b = rgb(viridis[i + 1]);
  const m = a.map((v, k) => Math.round(v + (b[k] - v) * (t - i)));
  return `rgba(${m[0]},${m[1]},${m[2]},0.78)`;
}

function addText(cls, left, top, txt) {
  const el = document.createElement("div");
  el.className = "abs " + cls;
  el.style.left = left + "px";
  el.style.top = top + "px";
  el.textContent = txt;
  document.body.appendChild(el);
}

function addToolbar(x, y) {
  const svg = `<svg class="abs" style="left:${x}px;top:${y}px" width="180" height="32" viewBox="0 0 180 32" fill="#c9c9c9">
    <path d="M1 8h8l3-5h10l3 5h7v23H1z"/><circle cx="17" cy="19" r="7" fill="#fff"/><circle cx="17" cy="19" r="4"/>
    <rect x="51" y="3" width="28" height="28"/><path d="M63 9h4v6h6v4h-6v6h-4v-6h-6v-4h6z" fill="#fff"/>
    <rect x="97" y="3" width="4" height="5"/><rect x="104" y="3" width="4" height="5"/><circle cx="116" cy="6" r="4.5"/><rect x="114" y="13" width="4" height="4"/><rect x="114" y="20" width="4" height="4"/><rect x="114" y="27" width="4" height="4"/>
    <path d="M148 17l14-14 6 6v-4h3v8l5 5-2 2-12-12-12 11z"/><path d="M152 18l10-9 10 9v13h-7v-8h-6v8h-7z"/></svg>`;
  document.body.insertAdjacentHTML("beforeend", svg);
}

function addLegend(labels, x, y) {
  labels.forEach((l, i) => {
    const d = document.createElement("div");
    d.className = "dot";
    d.style.left = x + "px";
    d.style.top = (y + 38 * i - 3) + "px";
    d.style.background = clusterColors[i];
    document.body.appendChild(d);
    addText("leg", x + 44, y + 38 * i - 11, l);
  });
}

function addColorbar(x, title, ticks, lo, hi, titleX) {
  const b = document.createElement("div");
  b.className = "bar";
  b.style.left = x + "px";
  b.style.top = "1106px";
  b.style.background = `linear-gradient(to top, ${viridis.join(",")})`;
  document.body.appendChild(b);
  addText("cbt", titleX, 1071, title);
  ticks.forEach(t => {
    const yy = 1108 + (hi - t) / (hi - lo) * 613;
    addText("tick", x + 68, yy - 13, String(t));
  });
}

/** Crée un panneau scatter avec axes calés sur la zone de tracé. */
function makePanel(o) {
  const c = document.createElement("canvas");
  const pad = 10;
  const left = 110, bottom = o.xTitle ? 115 : 42;
  c.style.left = (o.plot[0] - left) + "px";
  c.style.top = (o.plot[1] - pad - 5) + "px";
  const w = o.plot[2] - o.plot[0] + left + pad, h = o.plot[3] - o.plot[1] + pad + bottom + 8;
  c.style.width = w + "px"; c.style.height = h + "px";
  c.width = w; c.height = h;
  document.body.appendChild(c);
  const fmt = v => String(v).replace("-", "\u2212");
  const gridColor = ctx => (ctx.tick && ctx.tick.value === 0 ? "#444" : "#eeeeee");
  new Chart(c, {
    type: "scatter",
    data: { datasets: o.datasets },
    options: {
      responsive: false, animation: false, devicePixelRatio: 1,
      layout: { autoPadding: false, padding: { top: pad, right: pad, left: 0, bottom: 0 } },
      plugins: { legend: { display: false }, tooltip: { enabled: false } },
      scales: {
        x: {
          type: "linear", min: o.xr[0], max: o.xr[1],
          afterBuildTicks: a => { a.ticks = o.xTicks.map(v => ({ value: v })); },
          afterFit: a => { a.height = bottom; },
          grid: { color: gridColor, lineWidth: 2, drawTicks: false }, border: { display: false },
          ticks: { callback: fmt, color: "#444", font: { family: "Roboto", size: 21 }, padding: o.xTitle ? 5 : 7, maxRotation: 0, autoSkip: false },
          title: { display: !!o.xTitle, text: o.xTitle, color: "#444", font: { family: "Roboto", size: 25.5 }, padding: { top: 0, bottom: 5 } }
        },
        y: {
          type: "linear", min: o.yr[0], max: o.yr[1],
          afterBuildTicks: a => { a.ticks = o.yTicks.map(v => ({ value: v })); },
          afterFit: a => { a.width = left; },
          grid: { color: gridColor, lineWidth: 2, drawTicks: false }, border: { display: false },
          ticks: { callback: fmt, color: "#444", font: { family: "Roboto", size: 21 }, padding: 4, autoSkip: false },
          title: { display: true, text: o.yTitle, color: "#444", font: { family: "Roboto", size: 25.5 }, padding: { top: 10, bottom: 0 } }
        }
      }
    }
  });
}

const clusterSets = pts => pts.map((p, i) => ({ data: p.map(q => ({ x: q[0], y: q[1] })), backgroundColor: clusterColors[i] + "d8", borderWidth: 0, pointRadius: 5.5 }));
const depthSets = (pts, lo, hi) => [{ data: pts.flat().map(q => ({ x: q[0], y: q[1] })), backgroundColor: pts.flat().map(q => depthColor(q[2], lo, hi)), borderWidth: 0, pointRadius: 5.5 }];

makePanel({ plot: [200, 148, 738, 840], xr: [-47.2, 51.6], yr: [-52.9, 41.3], xTicks: atacXTicks, yTicks: atacYTicks, xTitle: "ATAC tSNE 1", yTitle: "ATAC tSNE 2", datasets: clusterSets(atacPoints) });
makePanel({ plot: [1240, 148, 1778, 840], xr: [-48, 46.2], yr: [-56, 51.4], xTicks: gexXTicks, yTicks: gexYTicks, xTitle: "GEX tSNE 1", yTitle: "GEX tSNE 2", datasets: clusterSets(gexPoints) });
makePanel({ plot: [200, 1048, 756, 1740], xr: [-47, 51.8], yr: [-53, 41.3], xTicks: atacXTicks, yTicks: atacYTicks, yTitle: "ATAC tSNE 2", datasets: depthSets(atacPoints, 1.96, 5.26) });
makePanel({ plot: [1240, 1048, 1806, 1740], xr: [-47.7, 46.3], yr: [-56, 51.4], xTicks: gexXTicks, yTicks: gexYTicks, yTitle: "GEX tSNE 2", datasets: depthSets(gexPoints, 1.545, 4.62) });

[["ATAC Clusters", 529, 96], ["GEX Clusters", 1569, 96], ["ATAC Depth", 529, 997], ["GEX Depth", 1569, 997]].forEach(t => {
  addText("ttl", t[1], t[2], t[0]);
  addText("sub", t[1], t[2] + 38, "sample - sample");
});
addToolbar(830, 118); addToolbar(1870, 118); addToolbar(830, 1018); addToolbar(1870, 1018);
addLegend(atacLegend, 785, 177);
addLegend(gexLegend, 1825, 177);
addColorbar(788, "log10 ATAC counts", atacBarTicks, 1.96, 5.26, 786);
addColorbar(1837, "log10 GEX counts", gexBarTicks, 1.545, 4.62, 1836);
</script>
</body>
</html>
